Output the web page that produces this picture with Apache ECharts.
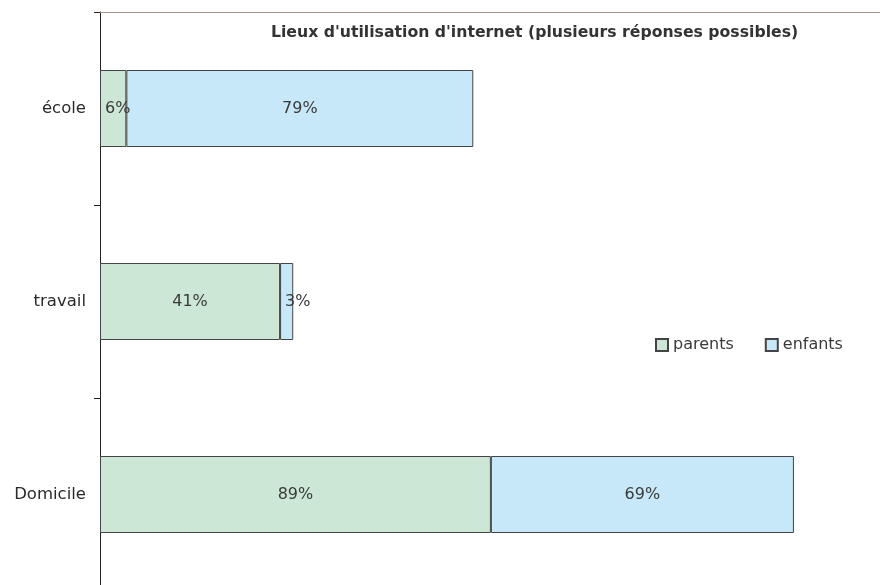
<!DOCTYPE html>
<html>
<head>
<meta charset="utf-8">
<script src="https://cdn.jsdelivr.net/npm/echarts@6/dist/echarts.min.js"></script>
<style>
  html, body { margin: 0; padding: 0; background: #fff; }
  #chart { width: 880px; height: 585px; }
</style>
</head>
<body>
<div id="chart"></div>
<script>
// données
const categories = ["Domicile", "travail", "école"];
const parents = [89, 41, 6];
const enfants = [69, 3, 79];

const chart = echarts.init(document.getElementById("chart"));
const font = "'DejaVu Sans', sans-serif";

const labelOpt = {
  show: true,
  position: "inside",
  formatter: "{c}%",
  color: "#3a3a3a",
  fontSize: 16,
  fontFamily: font,
};

// petites barres : étiquette calée à gauche (comme dans l'original)
function withLabels(values) {
  return values.map((v) =>
    v < 10 ? { value: v, label: { position: "insideLeft", distance: 5 } } : v
  );
}

chart.setOption({
  animation: false,
  title: {
    text: "Lieux d'utilisation d'internet (plusieurs réponses possibles)",
    left: 266,
    top: 20,
    textStyle: { fontSize: 15.7, fontWeight: "bold", color: "#333", fontFamily: font },
  },
  legend: {
    left: 650,
    top: 332,
    icon: "rect",
    itemWidth: 12,
    itemHeight: 12,
    itemGap: 31,
    textStyle: { fontSize: 16, color: "#3a3a3a", fontFamily: font },
    data: ["parents", "enfants"],
  },
  grid: { left: 100, top: 12, width: 780, height: 579, outerBoundsMode: "none" },
  xAxis: {
    type: "value",
    position: "top",
    min: 0,
    max: 177.6,
    axisLine: { show: true, lineStyle: { color: "#a0948c", width: 1 } },
    axisTick: { show: false },
    axisLabel: { show: false },
    splitLine: { show: false },
  },
  yAxis: {
    type: "category",
    data: categories,
    axisLine: { show: true, lineStyle: { color: "#222", width: 1 } },
    axisTick: { show: true, length: 6, lineStyle: { color: "#222" } },
    axisLabel: { color: "#2a2a2a", fontSize: 16.5, fontFamily: font, margin: 14 },
  },
  series: [
    {
      name: "parents",
      type: "bar",
      stack: "total",
      barWidth: 77,
      data: withLabels(parents),
      itemStyle: { color: "#cde7d6", borderColor: "#444", borderWidth: 1 },
      label: labelOpt,
    },
    {
      name: "enfants",
      type: "bar",
      stack: "total",
      barWidth: 77,
      data: withLabels(enfants),
      itemStyle: { color: "#c7e8f8", borderColor: "#444", borderWidth: 1 },
      label: labelOpt,
    },
  ],
});
</script>
</body>
</html>
